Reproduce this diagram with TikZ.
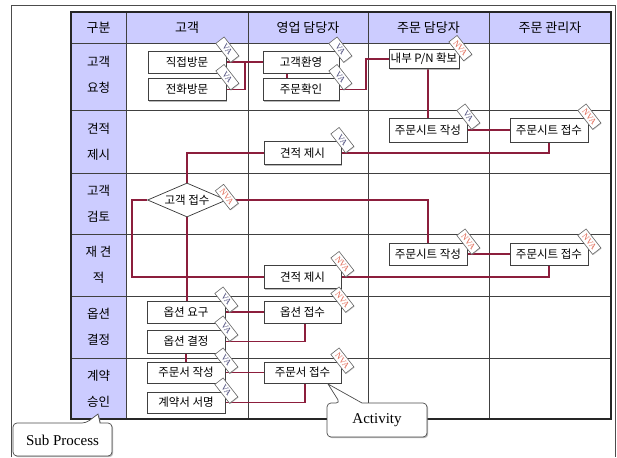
\documentclass[tikz,border=0pt]{standalone}
\usepackage{fontspec}
\setmainfont{Noto Sans CJK KR}
\newfontfamily\serifen{Liberation Serif}
\usetikzlibrary{shapes.geometric,shadows,calc}
\pgfdeclarelayer{bg}
\pgfsetlayers{bg,main}
\definecolor{lav}{RGB}{204,204,255}
\definecolor{conn}{RGB}{140,30,60}
\definecolor{vatxt}{RGB}{70,70,120}
\definecolor{nvatxt}{RGB}{225,105,85}
\begin{document}
\begin{tikzpicture}[x=1pt,y=-1pt,
  shd/.style={drop shadow={shadow xshift=1.2pt,shadow yshift=-1.2pt,opacity=0.55}},
  box/.style={draw=black!75, fill=white, line width=0.7pt, minimum width=78pt, minimum height=22pt, inner sep=1pt, font=\fontsize{11.5}{13}\selectfont, shd},
  dia/.style={diamond, draw=black!80, fill=white, line width=0.7pt, minimum width=79pt, minimum height=34pt, inner sep=0pt, aspect=2.3, font=\fontsize{11.5}{13}\selectfont},
  tagbase/.style={draw=black!60, fill=white, line width=0.6pt, rotate=-52, minimum width=24pt, minimum height=10.5pt, inner sep=0.5pt, font=\fontsize{8.5}{9}\selectfont\serifen, drop shadow={shadow xshift=0.7pt,shadow yshift=-0.7pt,opacity=0.4}},
  va/.style={tagbase, text=vatxt},
  nva/.style={tagbase, text=nvatxt},
  wire/.style={draw=conn, line width=1.4pt},
  hdr/.style={font=\fontsize{13}{15}\selectfont},
  lbl/.style={font=\fontsize{12.5}{26}\selectfont, align=center},
  gridln/.style={draw=black!75, line width=0.7pt},
  bubble/.style={draw=black!70, fill=white, line width=0.7pt, shd}
]
\useasboundingbox (0,0) rectangle (617,457);

% outer frame
\draw[black!70, line width=0.6pt] (11,457) -- (11,5) -- (615,5) -- (615,457);

% headers
\node[hdr] (h0) at (98.5,27.5) {구분};
\node[hdr] (h1) at (187,27.5) {고객};
\node[hdr] (h2) at (308,27.5) {영업 담당자};
\node[hdr] (h3) at (428.5,27.5) {주문 담당자};
\node[hdr] (h4) at (550,27.5) {주문 관리자};

% row labels
\node[lbl] (l1) at (98.5,75) {고객\\요청};
\node[lbl] (l2) at (98.5,141.5) {견적\\제시};
\node[lbl] (l3) at (98.5,203.5) {고객\\검토};
\node[lbl] (l4) at (98.5,265) {재 견\\적};
\node[lbl] (l5) at (98.5,327) {옵션\\결정};
\node[lbl] (l6) at (98.5,388.5) {계약\\승인};

% activities
\node[box] (r1a) at (187,62) {직접방문};
\node[box] (r1b) at (187,89.5) {전화방문};
\node[box, minimum width=76pt] (r1c) at (301,62) {고객환영};
\node[box, minimum width=76pt] (r1d) at (301,89.5) {주문확인};
\node[box, minimum width=70pt, minimum height=19pt] (r1e) at (424,59) {내부 P/N 확보};
\node[box, minimum width=77pt, minimum height=23pt] (r2a) at (302.5,153) {견적 제시};
\node[box, minimum height=24pt] (r2b) at (428,130) {주문시트 작성};
\node[box, minimum height=24pt] (r2c) at (549,130) {주문시트 접수};
\node[dia] (r3) at (187,200) {고객 접수};
\node[box, minimum width=77pt, minimum height=23pt] (r4a) at (302.5,277) {견적 제시};
\node[box] (r4b) at (428,254) {주문시트 작성};
\node[box] (r4c) at (549,254) {주문시트 접수};
\node[box] (r5a) at (186,312) {옵션 요구};
\node[box, minimum height=23pt] (r5b) at (186,341.5) {옵션 결정};
\node[box, minimum width=77pt] (r5c) at (302.5,312) {옵션 접수};
\node[box, minimum height=21pt] (r6a) at (186,372.5) {주문서 작성};
\node[box, minimum height=21pt] (r6b) at (186,402.5) {계약서 서명};
\node[box, minimum width=77pt, minimum height=21pt] (r6c) at (302.5,372.5) {주문서 접수};

% VA / NVA tags
\node[va]  (t1)  at ([xshift=1pt,yshift=1pt]r1a.north east) {VA};
\node[va]  (t2)  at ([xshift=1pt,yshift=1pt]r1b.north east) {VA};
\node[va]  (t3)  at ([xshift=1pt,yshift=1pt]r1c.north east) {VA};
\node[va]  (t4)  at ([xshift=1pt,yshift=1pt]r1d.north east) {VA};
\node[nva] (t5)  at ([xshift=1pt,yshift=1pt]r1e.north east) {NVA};
\node[va]  (t6)  at ([xshift=1pt,yshift=1pt]r2a.north east) {VA};
\node[va]  (t7)  at ([xshift=1pt,yshift=1pt]r2b.north east) {VA};
\node[nva] (t8)  at ([xshift=1pt,yshift=1pt]r2c.north east) {NVA};
\node[nva] (t9)  at ([xshift=0pt,yshift=3pt]r3.east) {NVA};
\node[nva] (t10) at ([xshift=1pt,yshift=1pt]r4a.north east) {NVA};
\node[nva] (t11) at ([xshift=1pt,yshift=1pt]r4b.north east) {NVA};
\node[nva] (t12) at ([xshift=1pt,yshift=1pt]r4c.north east) {NVA};
\node[va]  (t13) at ([xshift=1pt,yshift=1pt]r5a.north east) {VA};
\node[va]  (t14) at ([xshift=1pt,yshift=1pt]r5b.north east) {VA};
\node[nva] (t15) at ([xshift=1pt,yshift=1pt]r5c.north east) {NVA};
\node[va]  (t16) at ([xshift=1pt,yshift=1pt]r6a.north east) {VA};
\node[va]  (t17) at ([xshift=1pt,yshift=1pt]r6b.north east) {VA};
\node[nva] (t18) at ([xshift=1pt,yshift=1pt]r6c.north east) {NVA};

% callouts
\draw[bubble] (86,423) -- (98,414) -- (100,423) [rounded corners=4pt] -- (112,423) -- (112,456) -- (13,456) -- (13,423) -- cycle;
\node[font=\serifen\fontsize{15}{17}\selectfont] (sp) at (62.5,440) {Sub Process};
\draw[bubble] (340,403) -- (328,384) -- (362,403) [rounded corners=4pt] -- (427,403) -- (427,437) -- (327,437) -- (327,403) -- cycle;
\node[font=\serifen\fontsize{15}{17}\selectfont] (act) at (377,420) {Activity};

\begin{pgfonlayer}{bg}
  \fill[lav] (71,12) rectangle (611,43);
  \fill[lav] (71,43) rectangle (126,419);
  \foreach \yy in {43,110,173,234,296,358} \draw[gridln] (71,\yy) -- (611,\yy);
  \foreach \xx in {126,248,368,489} \draw[gridln] (\xx,12) -- (\xx,419);
  \draw[line width=1.8pt, black!85] (71,12) rectangle (611,419);

  \coordinate (j1) at (245,0);
  \coordinate (j2) at (366,0);
  \coordinate (j3) at (132,0);
  \draw[wire] (r1a.east) -- (r1c.west);
  \draw[wire] (r1b.east) -- (r1b.east -| j1) -- (j1 |- r1a.east);
  \draw[wire] ([xshift=-14pt]r1c.south) -- ([xshift=-14pt]r1d.north);
  \draw[wire] (r1d.east) -- (r1d.east -| j2) -- (j2 |- r1e.west) -- (r1e.west);
  \draw[wire] (r2b.north |- r1e.south) -- (r2b.north);
  \draw[wire] (r2b.east) -- (r2c.west);
  \draw[wire] (r2c.south) |- (r2a.east);
  \draw[wire] (r2a.west) -| (r3.north);
  \draw[wire] (r3.east) -| (r4b.north);
  \draw[wire] (r3.west) -- (r3.west -| j3) |- (r4a.west);
  \draw[wire] (r4b.east) -- (r4c.west);
  \draw[wire] (r4c.south) |- (r4a.east);
  \draw[wire] (r3.south) -- (r3.south |- r5a.north);
  \draw[wire] (r5a.east) -- (r5c.west);
  \draw[wire] ([xshift=2.5pt]r5c.south) |- (r5b.east);
  \draw[wire] (r5b.south) -- (r6a.north);
  \draw[wire] (r6a.east) -- (r6c.west);
  \draw[wire] ([xshift=2.5pt]r6c.south) |- (r6b.east);
\end{pgfonlayer}
\end{tikzpicture}
\end{document}
